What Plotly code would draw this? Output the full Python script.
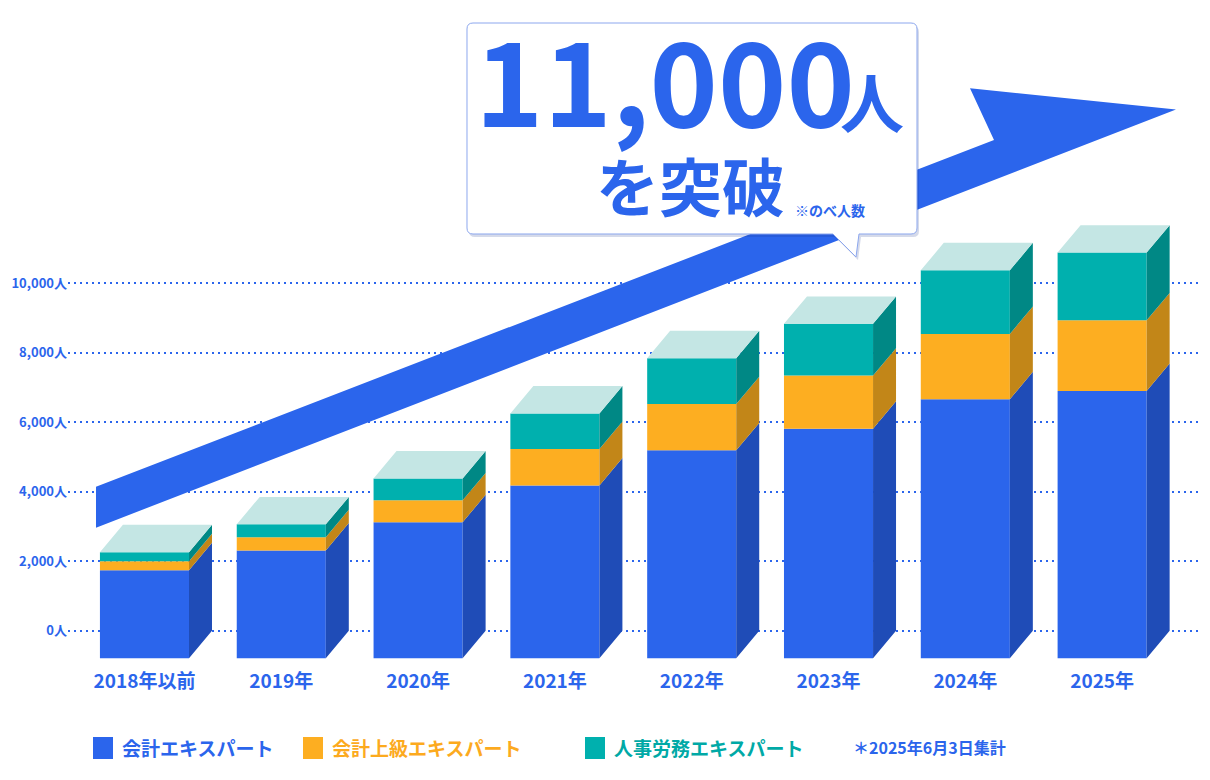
import plotly.graph_objects as go

# the page body keeps an 8px margin, so the figure is drawn 8px in from the window edge
OFF = 8
W, H = 1194, 764
ML, MR, MT, MB = 60, 0, 0, 104

categories = ["2018年以前", "2019年", "2020年", "2021年", "2022年", "2023年", "2024年", "2025年"]
accounting = [2530, 3100, 3910, 4970, 5980, 6600, 7450, 7690]      # 会計エキスパート
advanced = [260, 380, 630, 1050, 1330, 1530, 1880, 2030]           # 会計上級エキスパート
hr_labor = [260, 370, 630, 1020, 1320, 1490, 1830, 1950]           # 人事労務エキスパート
series_names = ["会計エキスパート", "会計上級エキスパート", "人事労務エキスパート"]
y_ticks = [0, 2000, 4000, 6000, 8000, 10000]
headline = "11,000"
footnote = "＊2025年6月3日集計"

BLUE = "#2B65EC"
front_colors = [BLUE, "#FDAE21", "#00B0AE"]
side_colors = ["#1F4CB7", "#C28618", "#008885"]
legend_text_colors = [BLUE, "#FCAA1E", "#00A9A6"]
TOP_COLOR = "#C4E6E4"
FONT = "Noto Sans CJK JP"

# fake 3d geometry (data units)
BAR_W = 0.651
DX = 0.168
DEPTH = 790
X_RANGE = [-0.559, 7.730]
Y_RANGE = [-1074, 17919]


def px(xp, yp):
    # pixel position in the window -> paper coords
    xf, yf = xp - OFF, yp - OFF
    return (xf - ML) / (W - ML - MR), (H - MB - yf) / (H - MT - MB)


def path_from_px(cmds):
    parts = []
    for cmd, pts in cmds:
        parts.append(cmd + " ".join("%.5f,%.5f" % px(a, b) for a, b in pts))
    return " ".join(parts) + " Z"


xs = list(range(len(categories)))
fig = go.Figure()

cum = [0] * len(xs)
for vals, name, fc, sc in zip([accounting, advanced, hr_labor], series_names, front_colors, side_colors):
    # front face
    fig.add_trace(go.Bar(
        x=xs, y=vals, base=[c - DEPTH for c in cum], width=BAR_W, name=name,
        marker=dict(color=fc, line=dict(width=0)), showlegend=False, hoverinfo="skip",
    ))
    # right side face
    sx, sy = [], []
    for i in xs:
        xr = i + BAR_W / 2
        lo = cum[i] - DEPTH
        hi = cum[i] + vals[i] - DEPTH
        sx += [xr, xr + DX, xr + DX, xr, xr, None]
        sy += [lo, lo + DEPTH, hi + DEPTH, hi, lo, None]
    fig.add_trace(go.Scatter(
        x=sx, y=sy, mode="lines", fill="toself", fillcolor=sc,
        line=dict(width=0), showlegend=False, hoverinfo="skip",
    ))
    cum = [c + v for c, v in zip(cum, vals)]

# top faces
tx, ty = [], []
for i in xs:
    xl, xr = i - BAR_W / 2, i + BAR_W / 2
    top = cum[i] - DEPTH
    tx += [xl, xr, xr + DX, xl + DX, xl, None]
    ty += [top, top, top + DEPTH, top + DEPTH, top, None]
fig.add_trace(go.Scatter(
    x=tx, y=ty, mode="lines", fill="toself", fillcolor=TOP_COLOR,
    line=dict(width=0), showlegend=False, hoverinfo="skip",
))

shapes = []
# big arrow behind the bars
arrow = [("M", [(96, 527.7)]), ("L", [(1176, 109.5)]), ("L", [(970, 88.3)]),
         ("L", [(994, 140)]), ("L", [(96, 486.7)])]
shapes.append(dict(type="path", path=path_from_px(arrow), xref="paper", yref="paper",
                   fillcolor=BLUE, line=dict(width=0), layer="between"))

# callout box with pointer
bx0, by0, bx1, by1, r = 467, 23, 917, 234, 6
callout = [
    ("M", [(bx0 + r, by0)]),
    ("L", [(bx1 - r, by0)]), ("Q", [(bx1, by0), (bx1, by0 + r)]),
    ("L", [(bx1, by1 - r)]), ("Q", [(bx1, by1), (bx1 - r, by1)]),
    ("L", [(859, by1)]), ("L", [(856, 257)]), ("L", [(833, by1)]), ("L", [(bx0 + r, by1)]),
    ("Q", [(bx0, by1), (bx0, by1 - r)]),
    ("L", [(bx0, by0 + r)]), ("Q", [(bx0, by0), (bx0 + r, by0)]),
]
# soft shadow first, then the box
shadow = [(c, [(a + 2, b + 3) for a, b in p]) for c, p in callout]
shapes.append(dict(type="path", path=path_from_px(shadow), xref="paper", yref="paper",
                   fillcolor="rgba(20,50,140,0.18)", line=dict(width=0), layer="above"))
shapes.append(dict(type="path", path=path_from_px(callout), xref="paper", yref="paper",
                   fillcolor="white", line=dict(color="#8CA7EE", width=1), layer="above"))

annotations = []


def add_text(text, xp, yp, size, color=BLUE, xanchor="center", yanchor="middle"):
    ax, ay = px(xp, yp)
    annotations.append(dict(
        text=text, x=ax, y=ay, xref="paper", yref="paper", showarrow=False,
        xanchor=xanchor, yanchor=yanchor, borderpad=0,
        font=dict(family=FONT, size=size, color=color, weight="bold"),
    ))


add_text(headline, 856, 76, 116, xanchor="right")
add_text("人", 839, 100, 64, xanchor="left")
add_text("を突破", 690, 183, 63)
add_text("※のべ人数", 794, 210, 14, xanchor="left")

# legend (drawn by hand to match the squares)
legend_x = [93, 303, 585]
for lx, name, fc, tc in zip(legend_x, series_names, front_colors, legend_text_colors):
    x0, y0 = px(lx, 737)
    x1, y1 = px(lx + 20, 759)
    shapes.append(dict(type="rect", x0=x0, y0=y0, x1=x1, y1=y1, xref="paper", yref="paper",
                       fillcolor=fc, line=dict(width=0)))
    add_text(name, lx + 28, 747, 19, color=tc, xanchor="left")
add_text(footnote, 852, 747, 16, xanchor="left")

fig.update_layout(
    width=W, height=H,
    margin=dict(l=ML, r=MR, t=MT, b=MB, autoexpand=False),
    paper_bgcolor="white", plot_bgcolor="white",
    barmode="overlay",
    showlegend=False,
    shapes=shapes,
    annotations=annotations,
    xaxis=dict(
        range=X_RANGE, tickvals=xs, ticktext=categories,
        showgrid=False, zeroline=False, showline=False, ticks="", automargin=False,
        tickfont=dict(family=FONT, size=19, color=BLUE, weight="bold"),
    ),
    yaxis=dict(
        range=Y_RANGE, tickvals=y_ticks, ticktext=[f"{v:,}人" for v in y_ticks],
        showgrid=True, gridcolor=BLUE, gridwidth=2, griddash="2px,4px",
        zeroline=False, showline=False, ticks="", ticklen=0, automargin=False,
        tickfont=dict(family=FONT, size=13, color=BLUE, weight="bold"),
    ),
)

fig.write_html("out.html")
